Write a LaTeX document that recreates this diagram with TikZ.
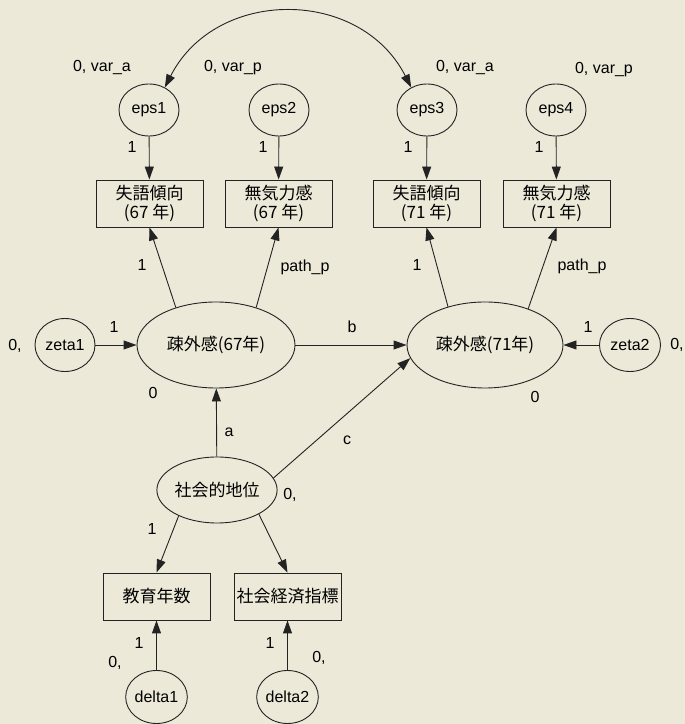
\documentclass[tikz,border=0pt]{standalone}
\usepackage{fontspec}
\setmainfont{Liberation Sans}
\newfontfamily\jp{Noto Sans CJK JP}
\usetikzlibrary{arrows.meta,shapes.geometric}
\definecolor{bg}{RGB}{236,233,216}
\definecolor{ink}{RGB}{35,35,35}
\tikzset{
  lat/.style={ellipse,draw=ink,line width=0.9pt,inner sep=0pt,font=\fontsize{16}{18}\selectfont},
  latj/.style={lat,font=\jp\fontsize{17}{19}\selectfont},
  obs/.style={rectangle,draw=ink,line width=0.9pt,minimum width=107pt,minimum height=47pt,inner sep=0pt,align=center,font=\jp\fontsize{17}{19}\selectfont},
  lbl/.style={inner sep=0pt,font=\fontsize{16}{18}\selectfont},
  arr/.style={draw=ink,line width=0.9pt,-{Triangle[length=13pt,width=9pt]}},
  biarr/.style={draw=ink,line width=0.9pt,{Triangle[length=13pt,width=9pt]}-{Triangle[length=13pt,width=9pt]}},
}
\begin{document}
\begin{tikzpicture}[x=1pt,y=1pt]
\fill[bg] (0,0) rectangle (685,724);
\useasboundingbox (0,0) rectangle (685,724);

% error terms
\node[lat,minimum width=60pt,minimum height=52pt] (eps1) at (149,614) {eps1};
\node[lat,minimum width=60pt,minimum height=52pt] (eps2) at (279,614) {eps2};
\node[lat,minimum width=60pt,minimum height=52pt] (eps3) at (427,614) {eps3};
\node[lat,minimum width=60pt,minimum height=52pt] (eps4) at (556,614) {eps4};

% observed
\node[obs] (b1) at (149.5,520.5) {失語傾向\\(67 年)};
\node[obs] (b2) at (278.5,520.5) {無気力感\\(67 年)};
\node[obs] (b3) at (426.5,520.5) {失語傾向\\(71 年)};
\node[obs] (b4) at (556.5,520.5) {無気力感\\(71 年)};

% latent
\node[latj,minimum width=158pt,minimum height=86pt] (L67) at (216,379) {疎外感(67年)};
\node[latj,minimum width=156pt,minimum height=86pt] (L71) at (485,379) {疎外感(71年)};
\node[lat,minimum width=60pt,minimum height=53pt] (zeta1) at (65,379) {zeta1};
\node[lat,minimum width=61pt,minimum height=53pt] (zeta2) at (630,379) {zeta2};
\node[latj,minimum width=120pt,minimum height=66pt] (ses) at (217,234) {社会的地位};

\node[obs] (b5) at (156.5,127.5) {教育年数};
\node[obs] (b6) at (287.5,127.5) {社会経済指標};
\node[lat,minimum width=61pt,minimum height=53pt] (delta1) at (156.5,27) {delta1};
\node[lat,minimum width=61pt,minimum height=53pt] (delta2) at (287.5,27) {delta2};

% arrows
\draw[arr] (eps1) -- (b1);
\draw[arr] (eps2) -- (b2);
\draw[arr] (eps3) -- (b3);
\draw[arr] (eps4) -- (b4);
\draw[arr] (L67.137) -- (b1.south);
\draw[arr] (L67.43) -- (b2.south);
\draw[arr] (L71.134) -- (b3.south);
\draw[arr] (L71.40) -- (b4.south);
\draw[arr] (zeta1) -- (L67);
\draw[arr] (zeta2) -- (L71);
\draw[arr] (L67) -- (L71);
\draw[arr] (ses) -- (L67);
\draw[arr] (ses.12) -- (L71.190);
\draw[arr] (ses.214) -- (b5.north);
\draw[arr] (ses.330) -- (b6.north);
\draw[arr] (delta1) -- (b5);
\draw[arr] (delta2) -- (b6);
\draw[biarr] (eps1.55) to[out=63,in=117,looseness=1.17] (eps3.125);

% labels
\node[lbl] (v1) at (102,656) {0, var\_a};
\node[lbl] (v2) at (233,656) {0, var\_p};
\node[lbl] (v3) at (465,656) {0, var\_a};
\node[lbl] (v4) at (604,654) {0, var\_p};
\node[lbl] (e1) at (132,577) {1};
\node[lbl] (e2) at (263,577) {1};
\node[lbl] (e3) at (408,577) {1};
\node[lbl] (e4) at (539,577) {1};
\node[lbl] (f1) at (142,459) {1};
\node[lbl] (f2) at (305,457) {path\_p};
\node[lbl] (f3) at (417,459) {1};
\node[lbl] (f4) at (582,458) {path\_p};
\node[lbl] (z1m) at (15,378) {0,};
\node[lbl] (z1w) at (114,397) {1};
\node[lbl] (l67m) at (153,331) {0};
\node[lbl] (pa) at (229,292) {a};
\node[lbl] (pb) at (352,397) {b};
\node[lbl] (pc) at (347,284) {c};
\node[lbl] (z2w) at (588,397) {1};
\node[lbl] (z2m) at (677,379) {0,};
\node[lbl] (l71m) at (535,327) {0};
\node[lbl] (sesm) at (290,229) {0,};
\node[lbl] (s1) at (152,195) {1};
\node[lbl] (d1w) at (139,81) {1};
\node[lbl] (d1m) at (115,61) {0,};
\node[lbl] (d2w) at (270,81) {1};
\node[lbl] (d2m) at (319,66) {0,};
\end{tikzpicture}
\end{document}
